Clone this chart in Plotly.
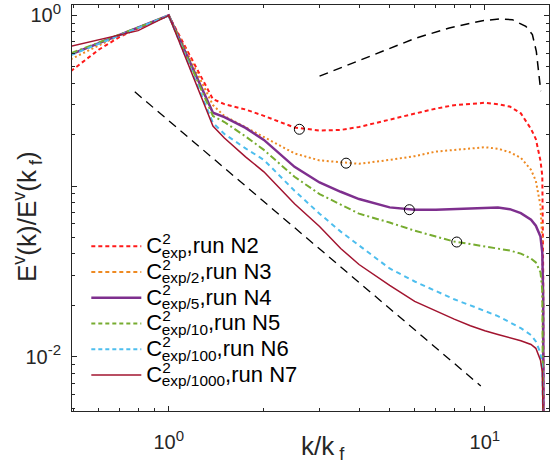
import plotly.graph_objects as go

# Wavenumber grid k/k_f shared by all runs
k = [0.49, 0.6, 0.7, 0.8, 1.0, 1.38, 1.5, 1.75, 2.0, 2.5, 3.0, 3.5, 4.0, 5.0, 6.0, 7.0,
     8.0, 9.0, 10.0, 11.0, 12.0, 13.0, 14.0, 14.5, 15.0, 15.2, 15.3, 15.36]

# Normalised velocity spectra E^v(k)/E^v(k_f)
e_n2 = [0.471, 0.629, 0.749, 0.840, 1.0, 0.323, 0.302, 0.281, 0.258, 0.2204, 0.2117, 0.2132,
        0.2220, 0.2447, 0.2665, 0.2845, 0.2979, 0.3035, 0.3076, 0.3015, 0.2923, 0.2668,
        0.2161, 0.1888, 0.1405, 0.1148, 0.030, 0.001]
e_n3 = [0.554, 0.668, 0.765, 0.847, 1.0, 0.2983, 0.2573, 0.2211, 0.1930, 0.1554, 0.1414, 0.1372,
        0.1350, 0.1424, 0.1497, 0.1592, 0.1629, 0.1662, 0.1689, 0.1656, 0.1579, 0.1463,
        0.1245, 0.1074, 0.0767, 0.0479, 0.012, 0.001]
e_n4 = [0.592, 0.687, 0.769, 0.849, 1.0, 0.2690, 0.2538, 0.2193, 0.1864, 0.1296, 0.1050, 0.0926,
        0.0839, 0.0750, 0.0727, 0.0727, 0.0733, 0.0742, 0.0750, 0.0748, 0.0732, 0.0694,
        0.0636, 0.0586, 0.0506, 0.0408, 0.0214, 0.001]
e_n5 = [0.600, 0.690, 0.772, 0.850, 1.0, 0.2573, 0.2373, 0.1953, 0.1629, 0.1133, 0.0898, 0.0778,
        0.0689, 0.0611, 0.0548, 0.0506, 0.0473, 0.0457, 0.0442, 0.0433, 0.0419, 0.0402,
        0.0376, 0.0357, 0.0312, 0.0245, 0.010, 0.001]
e_n6 = [0.585, 0.682, 0.766, 0.846, 1.0, 0.2342, 0.2020, 0.1662, 0.1424, 0.0939, 0.0689, 0.0541,
        0.0448, 0.0329, 0.0276, 0.0242, 0.0217, 0.0200, 0.0185, 0.0173, 0.0159, 0.0147,
        0.0134, 0.0123, 0.0105, 0.00835, 0.004, 0.001]
e_n7 = [0.659, 0.719, 0.769, 0.814, 1.0, 0.2249, 0.1914, 0.1483, 0.1212, 0.0788, 0.0579, 0.0431,
        0.0347, 0.0262, 0.0211, 0.0185, 0.0166, 0.0152, 0.0142, 0.0135, 0.0129, 0.0124,
        0.0118, 0.0112, 0.00955, 0.00813, 0.004, 0.001]

# Subscripts of C^2 and run labels
c_subs = ["exp", "exp/2", "exp/5", "exp/10", "exp/100", "exp/1000"]
run_ids = ["N2", "N3", "N4", "N5", "N6", "N7"]

# Marked points on the N2..N5 spectra
mark_k = [2.59, 3.64, 5.77, 8.15]
mark_e = [0.2152, 0.1362, 0.0727, 0.0470]

# Reference slope line
slope_k = [0.781, 9.71]
slope_e = [0.3566, 0.00674]

# Upper black dashed curve
upper_k = [3.0, 3.73, 4.75, 6.06, 7.72, 9.83, 11.09, 12.22, 13.48, 14.14, 14.55, 14.77, 14.92, 15.03]
upper_e = [0.4405, 0.5157, 0.6164, 0.7370, 0.8432, 0.9312, 0.9515, 0.9438, 0.8625, 0.7717,
           0.6164, 0.4925, 0.3940, 0.3599]

colors = ["#FF1A1A", "#EE8A22", "#7E2F8E", "#77AC30", "#4DBEEE", "#A2142F"]
widths = [2, 2, 2.5, 2, 2, 1.5]
curve_dash = ["4px,3px", "2px,2.6px", "solid", "7px,3px,2px,3px", "5px,4px", "solid"]
legend_dash = ["4px,3px", "4px,3px", "solid", "4px,3px", "4px,3px", "solid"]

FONT = "Liberation Sans, Arial, sans-serif"
TXT = "#262626"


def legend_label(sub, run):
    # superscript 2 stacked above the subscript: the 2 gets no advance width
    return ('<span style="font-size:22px">C'
            '<sup><span style="letter-spacing:-9px">2</span></sup>'
            '<sub>' + sub + '</sub>,run ' + run + '</span>')


def pow_label(exp):
    return '10<sup><span style="font-size:15px">' + exp + '</span></sup>'


fig = go.Figure()
series = [e_n2, e_n3, e_n4, e_n5, e_n6, e_n7]
for i, ys in enumerate(series):
    fig.add_trace(go.Scatter(
        x=k, y=ys, mode="lines", showlegend=False, legendgroup=run_ids[i],
        line=dict(color=colors[i], width=widths[i], dash=curve_dash[i]),
    ))
    # legend entry drawn with the short-dash key style
    fig.add_trace(go.Scatter(
        x=[None], y=[None], mode="lines", legendgroup=run_ids[i],
        name=legend_label(c_subs[i], run_ids[i]),
        line=dict(color=colors[i], width=widths[i], dash=legend_dash[i]),
    ))

fig.add_trace(go.Scatter(x=slope_k, y=slope_e, mode="lines", showlegend=False,
                         line=dict(color="black", width=1.3, dash="9px,6px")))
fig.add_trace(go.Scatter(x=upper_k, y=upper_e, mode="lines", showlegend=False,
                         line=dict(color="black", width=1.5, dash="9px,6px")))
fig.add_trace(go.Scatter(x=mark_k, y=mark_e, mode="markers", showlegend=False,
                         marker=dict(symbol="circle-open", size=10,
                                     color="black", line=dict(width=1, color="black"))))


def minor_vals(lo, hi):
    out = []
    for d in range(lo, hi + 1):
        for m in range(2, 10):
            out.append(m * 10.0 ** d)
    return out


axis_common = dict(
    type="log", showgrid=False, zeroline=False,
    showline=True, linecolor=TXT, linewidth=1, mirror="ticks",
    ticks="inside", ticklen=5, tickcolor=TXT, tickwidth=1,
    tickfont=dict(family=FONT, size=20, color=TXT),
    ticklabeloverflow="allow",
)

fig.update_xaxes(
    **axis_common,
    range=[-0.306, 1.203],
    tickvals=[1, 10], ticktext=[pow_label("0"), pow_label("1")],
    minor=dict(ticks="inside", ticklen=3, tickcolor=TXT, tickvals=minor_vals(-1, 1)),
    ticklabelstandoff=13,
)
fig.update_yaxes(
    **axis_common,
    range=[-2.318, 0.061],
    tickvals=[0.01, 0.1, 1], ticktext=[pow_label("-2"), "", pow_label("0")],
    minor=dict(ticks="inside", ticklen=3, tickcolor=TXT, tickvals=minor_vals(-3, 0)),
    ticklabelstandoff=6,
)

fig.add_annotation(
    text="E<sup>v</sup>(k)/E<sup>v</sup>(k<sub> f</sub>)", textangle=-90,
    xref="paper", yref="paper", x=-0.094, y=0.478, xanchor="center", yanchor="middle",
    showarrow=False, font=dict(family=FONT, size=26, color=TXT),
)
fig.add_annotation(
    text="k/k<sub> f</sub>",
    xref="paper", yref="paper", x=0.527, y=-0.091, xanchor="center", yanchor="middle",
    showarrow=False, font=dict(family=FONT, size=26, color=TXT),
)

fig.update_layout(
    width=550, height=467,
    margin=dict(l=72, r=0, t=3, b=56),
    paper_bgcolor="white", plot_bgcolor="white",
    font=dict(family=FONT, color=TXT),
    legend=dict(
        x=0.03, y=0.45, xanchor="left", yanchor="top",
        bgcolor="rgba(0,0,0,0)", borderwidth=0,
        font=dict(family=FONT, size=17.5, color="black"),
        itemwidth=50, tracegroupgap=0,
    ),
)

fig.write_html("out.html")
